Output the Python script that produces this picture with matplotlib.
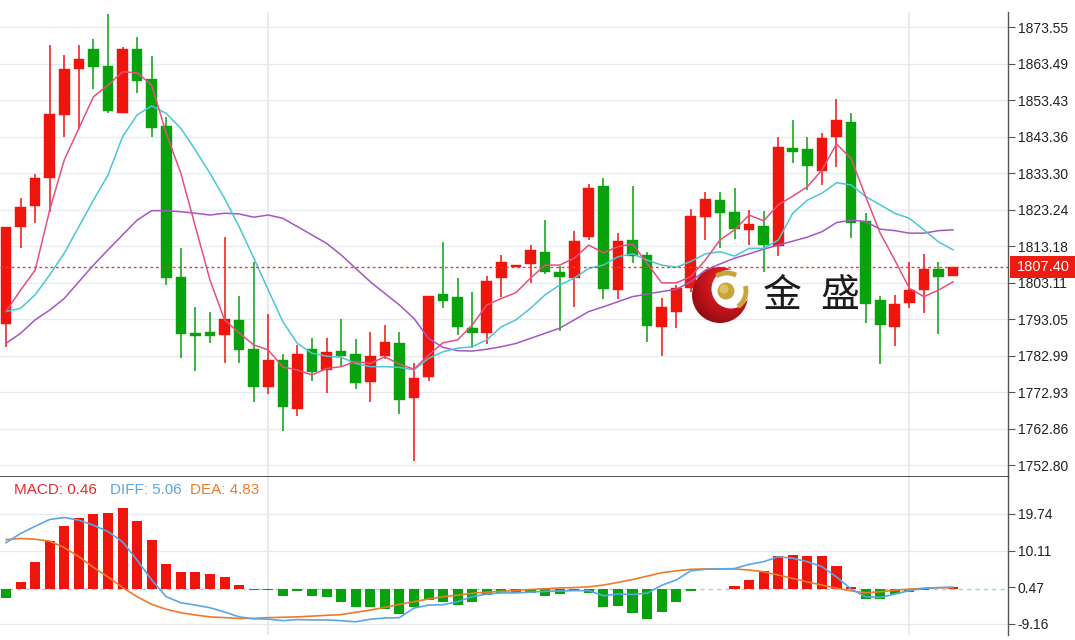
import matplotlib
matplotlib.use("Agg")
import matplotlib.pyplot as plt
import matplotlib.transforms as mtransforms
from matplotlib.patches import Rectangle, Circle, Arc
import numpy as np

# ---------------- data ----------------
opens = [1791.7, 1818.4, 1824.3, 1832.1, 1849.4, 1862.0, 1867.7, 1862.9, 1850.0, 1867.5,
         1859.2, 1846.4, 1804.8, 1789.4, 1789.5, 1788.7, 1792.9, 1784.9, 1774.5, 1781.8,
         1768.3, 1784.9, 1779.1, 1784.4, 1783.4, 1775.9, 1782.9, 1786.4, 1771.3, 1777.2,
         1799.9, 1799.3, 1790.7, 1789.4, 1804.5, 1807.6, 1808.2, 1811.5, 1806.0, 1804.5,
         1815.7, 1829.9, 1801.1, 1814.9, 1810.8, 1791.0, 1795.2, 1801.7, 1821.2, 1825.9,
         1822.6, 1817.7, 1818.9, 1813.3, 1840.2, 1840.0, 1834.0, 1843.2, 1847.5, 1820.2,
         1798.4, 1791.0, 1797.6, 1801.1, 1806.9, 1805.0]
highs = [1818.4, 1826.6, 1833.0, 1868.7, 1865.9, 1868.7, 1870.3, 1877.2, 1868.0, 1871.0,
         1865.7, 1848.9, 1812.6, 1796.5, 1795.2, 1815.7, 1799.5, 1808.9, 1794.5, 1783.5,
         1786.0, 1787.8, 1787.8, 1793.1, 1787.6, 1789.5, 1791.5, 1789.5, 1780.9, 1799.5,
         1814.4, 1804.4, 1800.5, 1805.0, 1810.8, 1808.1, 1813.5, 1820.4, 1807.8, 1817.4,
         1830.4, 1831.9, 1816.9, 1829.8, 1811.5, 1798.8, 1802.5, 1823.4, 1828.1, 1828.2,
         1829.2, 1823.2, 1823.0, 1843.4, 1848.0, 1843.4, 1844.5, 1853.8, 1850.0, 1822.3,
         1799.5, 1799.8, 1808.9, 1811.0, 1808.9, 1807.4]
lows = [1785.5, 1812.8, 1819.5, 1822.7, 1843.2, 1845.5, 1856.5, 1849.8, 1849.8, 1855.4,
        1843.2, 1802.5, 1782.3, 1778.9, 1786.4, 1781.1, 1780.9, 1770.2, 1772.5, 1762.3,
        1766.5, 1776.1, 1772.7, 1780.0, 1773.8, 1770.3, 1782.0, 1766.9, 1754.0, 1776.0,
        1796.1, 1788.7, 1785.2, 1786.2, 1799.3, 1807.5, 1803.1, 1805.5, 1789.8, 1796.5,
        1814.9, 1798.7, 1798.7, 1808.5, 1786.7, 1782.9, 1790.6, 1800.5, 1814.9, 1812.6,
        1815.1, 1813.5, 1806.2, 1810.5, 1836.1, 1828.7, 1830.1, 1835.1, 1815.4, 1792.1,
        1780.7, 1785.8, 1796.1, 1794.9, 1788.9, 1805.0]
closes = [1818.4, 1824.1, 1831.9, 1849.7, 1862.1, 1864.9, 1862.7, 1850.5, 1867.5, 1858.8,
          1845.7, 1804.5, 1789.0, 1788.5, 1788.5, 1793.0, 1784.6, 1774.5, 1781.8, 1768.8,
          1783.4, 1778.6, 1784.1, 1783.0, 1775.4, 1782.9, 1786.7, 1770.8, 1777.0, 1799.5,
          1798.1, 1790.9, 1789.2, 1803.6, 1808.8, 1808.0, 1812.2, 1806.2, 1804.6, 1814.7,
          1829.2, 1801.3, 1814.6, 1810.5, 1791.2, 1796.5, 1801.6, 1821.6, 1826.1, 1822.4,
          1817.9, 1819.3, 1813.5, 1840.6, 1839.3, 1835.3, 1843.1, 1848.0, 1819.7, 1797.3,
          1791.5, 1797.2, 1801.1, 1806.9, 1804.8, 1807.4]

ma5 = [1795.2, 1801.1, 1806.6, 1823.2, 1837.0, 1845.7, 1854.4, 1857.6, 1861.3, 1861.0,
       1857.6, 1844.3, 1833.3, 1818.6, 1803.9, 1792.9, 1789.3, 1786.0, 1784.6, 1779.9,
       1779.1, 1777.7, 1779.5, 1780.0, 1781.4, 1780.9, 1782.7, 1780.7, 1779.3, 1783.2,
       1786.6, 1787.4, 1791.5, 1797.0, 1798.8, 1800.4, 1804.4, 1808.0, 1808.0, 1809.9,
       1813.5, 1811.4, 1813.1, 1813.8, 1808.5, 1803.1, 1803.1, 1804.8, 1809.4, 1814.9,
       1817.7, 1821.8, 1820.2, 1824.6, 1827.0, 1829.6, 1834.2, 1841.4, 1837.4, 1826.9,
       1816.8, 1809.4, 1801.6, 1799.3, 1801.1, 1803.4]
ma10 = [1795.2, 1796.1, 1799.8, 1805.3, 1811.3, 1818.6, 1825.9, 1832.8, 1843.4, 1849.4,
        1851.9, 1849.8, 1845.7, 1839.7, 1833.3, 1826.4, 1818.6, 1810.0, 1801.1, 1792.4,
        1786.4, 1783.7, 1782.9, 1782.6, 1780.9, 1780.0, 1780.0, 1779.8, 1779.1, 1782.3,
        1784.1, 1785.1, 1785.5, 1787.4, 1791.0, 1792.9, 1796.1, 1799.8, 1802.5, 1804.4,
        1807.1, 1808.0, 1810.3, 1811.1, 1809.4, 1808.0, 1807.4, 1809.0, 1811.1, 1811.7,
        1810.5, 1812.6, 1812.6, 1814.9, 1822.3, 1825.9, 1827.8, 1830.7, 1830.1, 1826.9,
        1824.6, 1822.3, 1820.9, 1817.7, 1814.4, 1812.2]
ma20 = [1786.4, 1789.2, 1792.9, 1795.6, 1798.8, 1803.4, 1808.0, 1812.2, 1816.3, 1820.4,
        1823.0, 1823.0, 1822.7, 1822.3, 1821.8, 1822.3, 1822.1, 1821.2, 1821.8, 1820.9,
        1818.6, 1816.3, 1814.0, 1810.8, 1807.1, 1803.4, 1800.2, 1797.0, 1793.3, 1787.8,
        1785.3, 1784.4, 1784.3, 1784.8, 1785.5, 1786.4, 1787.8, 1789.2, 1790.6, 1792.9,
        1795.2, 1796.5, 1797.9, 1799.3, 1800.0, 1800.7, 1801.3, 1803.4, 1806.6, 1808.3,
        1809.9, 1811.1, 1812.4, 1813.5, 1814.6, 1815.7, 1817.2, 1819.7, 1820.4, 1820.0,
        1817.9, 1817.5, 1816.8, 1816.8, 1817.5, 1817.7]

macd_hist = [-2.3, 1.9, 7.0, 12.6, 16.5, 18.7, 19.7, 20.0, 21.2, 17.9,
             12.9, 6.6, 4.6, 4.4, 3.9, 3.2, 1.05, -0.3, -0.35, -1.75,
             -0.6, -1.8, -2.2, -3.3, -4.6, -4.6, -5.1, -6.6, -4.8, -2.9,
             -3.5, -4.1, -3.5, -1.6, -1.0, -1.0, -1.0, -1.8, -1.4, -0.3,
             -1.0, -4.6, -4.4, -6.2, -7.8, -5.9, -3.5, -0.45, -0.1, -0.1,
             0.8, 2.5, 4.7, 8.7, 8.9, 8.8, 8.7, 6.1, 0.6, -2.5,
             -2.7, -1.3, -0.7, -0.2, -0.1, 0.46]
diff = [12.2, 14.6, 16.5, 18.3, 18.8, 18.1, 16.8, 15.1, 12.4, 7.6,
        2.4, -2.0, -3.6, -4.2, -4.9, -6.0, -7.3, -7.8, -7.9, -8.3,
        -8.0, -8.1, -8.1, -8.3, -8.6, -7.9, -7.6, -7.5, -5.0, -4.2,
        -4.1, -3.3, -2.0, -1.3, -1.0, -1.0, -0.8, -0.6, -0.5, -0.4,
        -0.4, -1.75, -1.3, -1.4, -1.1, 1.0, 2.4, 4.8, 5.2, 5.3,
        5.4, 6.5, 7.2, 8.5, 8.1, 7.2, 5.9, 3.2, 0.0, -2.0,
        -2.2, -1.3, -0.4, 0.2, 0.4, 0.5]
dea = [13.0, 13.3, 13.1, 12.6, 10.9, 8.5, 5.7, 3.2, 0.4, -2.0,
       -4.0, -5.3, -6.2, -6.8, -7.3, -7.5, -7.7, -7.7, -7.5, -7.4,
       -7.3, -7.1, -6.9, -6.7, -6.1, -5.5, -4.8, -4.0, -3.3, -2.6,
       -2.0, -1.6, -1.1, -0.8, -0.6, -0.4, -0.1, 0.1, 0.3, 0.4,
       0.6, 1.05, 1.75, 2.5, 3.4, 4.3, 4.8, 5.2, 5.3, 5.3,
       5.3, 5.0, 4.55, 3.7, 2.8, 1.9, 1.05, 0.2, -0.45, -1.0,
       -0.7, -0.3, 0.0, 0.2, 0.35, 0.4]

price_ticks = [1873.55, 1863.49, 1853.43, 1843.36, 1833.30, 1823.24, 1813.18,
               1803.11, 1793.05, 1782.99, 1772.93, 1762.86, 1752.80]
macd_ticks = [19.74, 10.11, 0.47, -9.16]
last_price = 1807.40
legend_labels = ["MACD: 0.46", "DIFF: 5.06", "DEA: 4.83"]
sep_index = [18, 62]
logo_chars = ["金", "盛"]

# ---------------- style ----------------
RED = "#f0150c"
GREEN = "#07a20c"
C_MA5 = "#e4507f"
C_MA10 = "#4cc6d6"
C_MA20 = "#a456c4"
C_DIFF = "#5aa6e6"
C_DEA = "#f07a2a"
GRID = "#e8ebf0"
AXC = "#555555"
TXT = "#222222"
plt.rcParams['font.family'] = ['Liberation Sans', 'DejaVu Sans']

W, H = 1075, 640
fig = plt.figure(figsize=(W / 100, H / 100), dpi=100)

def frac_rect(x0, y0, x1, y1):
    return [x0 / W, (H - y1) / H, (x1 - x0) / W, (y1 - y0) / H]

ax = fig.add_axes(frac_rect(0, 12, 1008, 477))
axm = fig.add_axes(frac_rect(0, 477, 1008, 635))

n = len(closes)
xs = np.arange(n)
step = 14.57
xlim = (-6 / step, (1008 - 6) / step)

# ---------------- main panel ----------------
ax.set_xlim(*xlim)
ax.set_ylim(1749.58, 1877.77)
for t in price_ticks:
    ax.axhline(t, color=GRID, lw=1, zorder=0)
for gi in sep_index:
    ax.axvline(gi, color="#e3e8ee", lw=1.2, zorder=0)

bw = 0.73
for i in range(n):
    o, h, l, c = opens[i], highs[i], lows[i], closes[i]
    col = RED if c >= o else GREEN
    ax.vlines(i, l, h, color=col, lw=1.1, zorder=2)
    bot = min(o, c)
    ht = max(abs(c - o), 0.45)
    ax.add_patch(Rectangle((i - bw / 2, bot), bw, ht, fc=col, ec=col, lw=0.3, zorder=3))

ax.plot(xs, ma20, color=C_MA20, lw=1.1, zorder=4)
ax.plot(xs, ma10, color=C_MA10, lw=1.1, zorder=4)
ax.plot(xs, ma5, color=C_MA5, lw=1.1, zorder=4)

ax.axhline(last_price, color="#ee3a3a", lw=1, ls=(0, (2, 2)), zorder=5)

ax.yaxis.tick_right()
ax.set_yticks(price_ticks)
ax.set_yticklabels([f"{t:.2f}" for t in price_ticks])
ax.set_xticks([])
ax.tick_params(axis='y', length=5, width=0.8, color=AXC, labelsize=10, labelcolor=TXT, pad=2)
for s in ["top", "left"]:
    ax.spines[s].set_visible(False)
ax.spines["right"].set_color(AXC)
ax.spines["right"].set_linewidth(1)
ax.spines["bottom"].set_color("#333333")
ax.spines["bottom"].set_linewidth(1.2)

# current price tag
tr = mtransforms.blended_transform_factory(ax.transAxes, ax.transData)
ph = 22 * (1877.77 - 1749.58) / 465
ax.add_patch(Rectangle((1.002, last_price - ph / 2), 66 / 1008, ph, transform=tr,
                       fc="#ee1c10", ec="none", clip_on=False, zorder=10))
ax.text(1.002 + 33 / 1008, last_price, f"{last_price:.2f}", transform=tr, color="white",
        ha="center", va="center", fontsize=10.5, zorder=11, clip_on=False)

# ---------------- MACD panel ----------------
axm.set_xlim(*xlim)
axm.set_ylim(-12.06, 29.45)
for t in macd_ticks:
    if t != 0.47:
        axm.axhline(t, color=GRID, lw=1, zorder=0)
for gi in sep_index:
    axm.axvline(gi, color="#e3e8ee", lw=1.2, zorder=0)
axm.axhline(0, color="#9ed3df", lw=1, ls=(0, (3, 3)), zorder=1)
hcols = [RED if v >= 0 else GREEN for v in macd_hist]
axm.bar(xs, macd_hist, width=0.69, color=hcols, zorder=2)
axm.plot(xs, dea, color=C_DEA, lw=1.2, zorder=3)
axm.plot(xs, diff, color=C_DIFF, lw=1.2, zorder=3)

axm.yaxis.tick_right()
axm.set_yticks(macd_ticks)
axm.set_yticklabels([f"{t:.2f}" for t in macd_ticks])
axm.set_xticks([])
axm.tick_params(axis='y', length=5, width=0.8, color=AXC, labelsize=10, labelcolor=TXT, pad=2)
for s in ["top", "left", "bottom"]:
    axm.spines[s].set_visible(False)
axm.spines["right"].set_color(AXC)
axm.spines["right"].set_linewidth(1)

for lab, col, xp in zip(legend_labels, ["#e82a2a", C_DIFF, C_DEA], [14, 110, 190]):
    axm.text(xp / 1008, (635 - 490) / 158, lab, transform=axm.transAxes, color=col,
             fontsize=11, ha="left", va="center")

# ---------------- logo overlay ----------------
ov = fig.add_axes([0, 0, 1, 1], zorder=20)
ov.set_xlim(0, W)
ov.set_ylim(H, 0)
ov.axis("off")
ov.patch.set_alpha(0)

cx, cy, r = 720, 295, 28
gy, gx = np.mgrid[cy - r:cy + r:120j, cx - r:cx + r:120j]
d = np.hypot(gx - (cx + 10), gy - (cy - 12)) / (2 * r)
from matplotlib.colors import LinearSegmentedColormap
cm = LinearSegmentedColormap.from_list("lg", ["#ee3030", "#c4141c", "#7c0a0e"])
im = ov.imshow(d, extent=(cx - r, cx + r, cy + r, cy - r), cmap=cm, vmin=0.05, vmax=0.9,
               zorder=21, interpolation="bilinear")
clip = Circle((cx, cy), r, transform=ov.transData)
im.set_clip_path(clip)
ov.add_patch(Circle((731, 289), 19.5, fc="white", ec="none", zorder=22))
ov.add_patch(Circle((726, 291), 8.5, fc="#c9a43a", ec="none", zorder=23))
ov.add_patch(Circle((724, 289), 4.5, fc="#e6cf78", ec="none", alpha=0.7, zorder=24))
ov.add_patch(Arc((727, 291), 38, 36, theta1=235, theta2=300, color="#c9a43a", lw=3.5, zorder=23))
ov.add_patch(Arc((727, 291), 38, 38, theta1=-15, theta2=55, color="#c9a43a", lw=3.5, zorder=23))
ov.text(782.5, 296, logo_chars[0], family=["Noto Sans CJK SC", "DejaVu Sans"], fontsize=28,
        color="#1c1c1c", ha="center", va="center", zorder=25)
ov.text(840, 296, logo_chars[1], family=["Noto Sans CJK SC", "DejaVu Sans"], fontsize=28,
        color="#1c1c1c", ha="center", va="center", zorder=25)

fig.savefig("out.png", dpi=100, facecolor="white")
